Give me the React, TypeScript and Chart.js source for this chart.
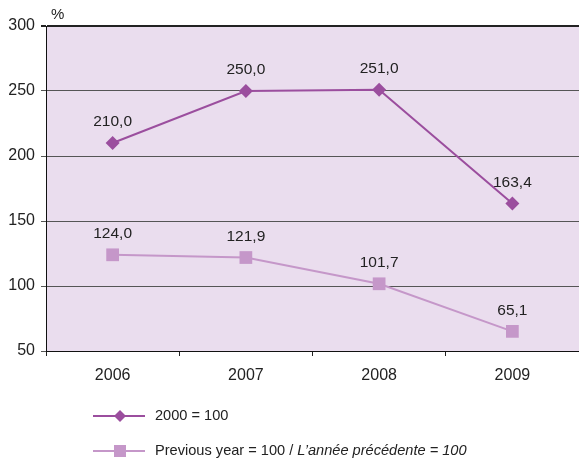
import React, { useEffect, useRef } from "react";
import { Chart, registerables } from "chart.js";

Chart.register(...registerables);

const categories = ["2006", "2007", "2008", "2009"];
const base2000 = [210.0, 250.0, 251.0, 163.4];
const previousYear = [124.0, 121.9, 101.7, 65.1];
const yTicks = [50, 100, 150, 200, 250, 300];

const COLOR1 = "#9B4E9E";
const COLOR2 = "#C597C9";
const FONT = "'Liberation Sans', Arial, sans-serif";

const fmt = (v: number) => v.toFixed(1).replace(".", ",");

const extrasPlugin = {
  id: "extras",
  afterDatasetsDraw(chart: any) {
    const ctx = chart.ctx;
    ctx.save();
    ctx.fillStyle = "#222";
    ctx.font = `15.5px ${FONT}`;
    ctx.textAlign = "center";
    ctx.textBaseline = "middle";
    chart.data.datasets.forEach((ds: any, i: number) => {
      const meta = chart.getDatasetMeta(i);
      meta.data.forEach((pt: any, j: number) => {
        ctx.fillText(fmt(ds.data[j]), pt.x, pt.y - 21);
      });
    });
    // % label
    ctx.font = `15px ${FONT}`;
    ctx.textAlign = "left";
    ctx.fillText("%", 51, 15);

    // legend
    const items = [
      { color: COLOR1, style: "diamond", y: 416 },
      { color: COLOR2, style: "square", y: 451 },
    ];
    items.forEach((it) => {
      ctx.strokeStyle = it.color;
      ctx.lineWidth = 2;
      ctx.beginPath();
      ctx.moveTo(93, it.y);
      ctx.lineTo(145, it.y);
      ctx.stroke();
      ctx.fillStyle = it.color;
      ctx.beginPath();
      if (it.style === "diamond") {
        ctx.moveTo(120, it.y - 6);
        ctx.lineTo(126, it.y);
        ctx.lineTo(120, it.y + 6);
        ctx.lineTo(114, it.y);
        ctx.closePath();
      } else {
        ctx.rect(114, it.y - 6, 12, 12);
      }
      ctx.fill();
    });
    ctx.fillStyle = "#222";
    ctx.textBaseline = "middle";
    const lf = "14.6px";
    ctx.font = `${lf} ${FONT}`;
    ctx.fillText("2000 = 100", 155, 416);
    let x = 155;
    const part1 = "Previous year = 100 / ";
    ctx.fillText(part1, x, 451);
    x += ctx.measureText(part1).width;
    ctx.font = `italic ${lf} ${FONT}`;
    const part2 = "L\u2019ann\u00e9e pr\u00e9c\u00e9dente = 100";
    ctx.fillText(part2, x, 451);
    ctx.restore();
  },
  beforeDraw(chart: any) {
    const { ctx, chartArea } = chart;
    ctx.save();
    ctx.fillStyle = "#EADDEE";
    ctx.fillRect(chartArea.left, chartArea.top, chartArea.right - chartArea.left, chartArea.bottom - chartArea.top);
    ctx.restore();
  },
};

export default function App() {
  const ref = useRef<HTMLCanvasElement | null>(null);
  useEffect(() => {
    document.body.style.margin = "0";
    const chart = new Chart(ref.current as HTMLCanvasElement, {
      type: "line",
      data: {
        labels: categories,
        datasets: [
          {
            label: "2000 = 100",
            data: base2000,
            borderColor: COLOR1,
            backgroundColor: COLOR1,
            borderWidth: 2,
            pointStyle: "rectRot",
            pointRadius: 7,
            pointBorderWidth: 0,
            tension: 0,
          },
          {
            label: "Previous year = 100 / L\u2019ann\u00e9e pr\u00e9c\u00e9dente = 100",
            data: previousYear,
            borderColor: COLOR2,
            backgroundColor: COLOR2,
            borderWidth: 2,
            pointStyle: "rect",
            pointRadius: 9,
            pointBorderWidth: 0,
            tension: 0,
          },
        ],
      },
      options: {
        animation: false,
        responsive: false,
        layout: { autoPadding: false, padding: { left: 0, right: 0, top: 26, bottom: 0 } },
        plugins: { legend: { display: false }, tooltip: { enabled: false } },
        scales: {
          x: {
            offset: true,
            grid: {
              offset: true,
              drawOnChartArea: false,
              tickLength: 5,
              color: "#222",
            },
            border: { color: "#111", width: 1 },
            ticks: { color: "#222", font: { family: FONT, size: 16 }, padding: 10 },
            afterFit(scale: any) {
              scale.height = 109;
              scale.paddingLeft = 0;
              scale.paddingRight = 0;
            },
          },
          y: {
            min: 50,
            max: 300,
            afterBuildTicks(scale: any) {
              scale.ticks = yTicks.map((v) => ({ value: v }));
            },
            grid: {
              color: (c: any) => (c.tick && c.tick.value === 300 ? "#222" : "#555"),
              lineWidth: (c: any) => (c.tick && c.tick.value === 300 ? 2 : 1),
              tickLength: 5,
            },
            border: { color: "#111", width: 1 },
            ticks: { color: "#222", font: { family: FONT, size: 16 }, padding: 6 },
            afterFit(scale: any) {
              scale.width = 46;
            },
          },
        },
      },
      plugins: [extrasPlugin],
    } as any);
    return () => chart.destroy();
  }, []);
  return <canvas ref={ref} width={579} height={460} style={{ display: "block" }} />;
}
